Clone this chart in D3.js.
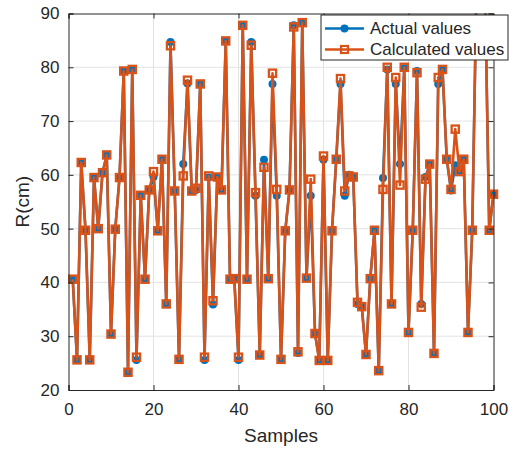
<!DOCTYPE html>
<html>
<head>
<meta charset="utf-8">
<script src="https://cdn.jsdelivr.net/npm/d3@7"></script>
<style>
  html, body { margin: 0; padding: 0; background: #fff; }
  svg { display: block; font-family: "Liberation Sans", Arial, sans-serif; }
</style>
</head>
<body>
<div id="chart"></div>
<script>
// sample index 1..100
const samples = d3.range(1, 101);

// measured radius
const actual = [
  40.6, 25.6, 62.3, 49.7, 25.6, 59.5, 50.0, 60.4, 63.7, 30.4,
  49.9, 59.5, 79.3, 23.3, 79.6, 25.6, 56.2, 40.6, 57.2, 59.6,
  49.6, 62.9, 36.0, 84.7, 57.0, 25.7, 62.0, 77.0, 57.0, 57.2,
  76.9, 25.6, 59.5, 35.9, 59.6, 57.2, 84.9, 40.6, 40.7, 25.6,
  87.8, 40.6, 84.7, 56.1, 26.5, 62.8, 40.7, 76.9, 56.1, 25.7,
  49.6, 57.2, 87.8, 26.9, 88.3, 40.8, 56.1, 30.5, 25.5, 62.8,
  25.5, 49.6, 62.9, 76.9, 56.1, 60.0, 59.6, 36.0, 35.5, 26.6,
  40.7, 49.7, 23.6, 59.4, 79.6, 36.0, 76.9, 62.0, 79.8, 30.7,
  49.7, 79.3, 36.0, 59.6, 62.0, 26.8, 76.9, 79.6, 62.9, 57.1,
  61.8, 60.8, 62.9, 30.7, 49.7, 95.0, 97.0, 95.0, 49.7, 56.4
];

// model output
const calculated = [
  40.6, 25.6, 62.3, 49.7, 25.6, 59.5, 50.0, 60.4, 63.7, 30.4,
  49.9, 59.5, 79.3, 23.3, 79.6, 26.1, 56.2, 40.6, 57.2, 60.6,
  49.6, 62.9, 36.0, 84.0, 57.0, 25.7, 59.8, 77.6, 57.0, 57.5,
  76.9, 26.1, 59.8, 36.6, 59.6, 57.2, 84.9, 40.6, 40.7, 26.1,
  87.8, 40.6, 84.1, 56.7, 26.5, 61.4, 40.7, 78.9, 57.3, 25.7,
  49.6, 57.2, 87.5, 27.1, 88.3, 40.8, 59.2, 30.5, 25.5, 63.5,
  25.5, 49.6, 62.9, 77.9, 57.0, 59.8, 59.6, 36.3, 35.5, 26.6,
  40.7, 49.7, 23.6, 57.3, 80.0, 36.0, 78.1, 58.1, 80.0, 30.7,
  49.7, 79.0, 35.4, 59.2, 62.0, 26.8, 78.1, 79.6, 62.9, 57.3,
  68.5, 60.6, 62.9, 30.7, 49.7, 95.0, 97.0, 95.0, 49.7, 56.4
];

const xTicks = [0, 20, 40, 60, 80, 100];
const yTicks = [20, 30, 40, 50, 60, 70, 80, 90];
const seriesNames = ['Actual values', 'Calculated values'];

const width = 515, height = 449;
const margin = { top: 13.5, right: 21.5, bottom: 59, left: 68.5 };
const innerW = width - margin.left - margin.right;
const innerH = height - margin.top - margin.bottom;

const blue = '#0072BD', orange = '#D95319', ink = '#262626';

const x = d3.scaleLinear().domain([0, 100]).range([0, innerW]);
const y = d3.scaleLinear().domain([20, 90]).range([innerH, 0]);

const svg = d3.select('#chart').append('svg')
  .attr('width', width)
  .attr('height', height);

svg.append('defs').append('clipPath').attr('id', 'plot-clip')
  .append('rect').attr('width', innerW).attr('height', innerH);

const g = svg.append('g').attr('transform', `translate(${margin.left},${margin.top})`);

// grid
g.append('g').selectAll('line').data(xTicks.slice(1, -1)).join('line')
  .attr('x1', d => x(d)).attr('x2', d => x(d))
  .attr('y1', 0).attr('y2', innerH)
  .attr('stroke', '#e3e3e3').attr('stroke-width', 1);
g.append('g').selectAll('line').data(yTicks.slice(1, -1)).join('line')
  .attr('y1', d => y(d)).attr('y2', d => y(d))
  .attr('x1', 0).attr('x2', innerW)
  .attr('stroke', '#e3e3e3').attr('stroke-width', 1);

// series: lines clipped to the box, markers drawn only for in-range points
const plot = g.append('g');
const line = d3.line();
const inRange = v => v >= 20 && v <= 90;

const ptsA = samples.map((s, i) => [x(s), y(actual[i]), actual[i]]);
const ptsC = samples.map((s, i) => [x(s), y(calculated[i]), calculated[i]]);

plot.append('path').attr('d', line(ptsA)).attr('clip-path', 'url(#plot-clip)')
  .attr('fill', 'none').attr('stroke', blue).attr('stroke-width', 2.6)
  .attr('stroke-linejoin', 'round');
plot.append('g').selectAll('circle').data(ptsA.filter(d => inRange(d[2]))).join('circle')
  .attr('cx', d => d[0]).attr('cy', d => d[1]).attr('r', 4)
  .attr('fill', blue);

plot.append('path').attr('d', line(ptsC)).attr('clip-path', 'url(#plot-clip)')
  .attr('fill', 'none').attr('stroke', orange).attr('stroke-width', 2.6)
  .attr('stroke-linejoin', 'round');
plot.append('g').selectAll('rect').data(ptsC.filter(d => inRange(d[2]))).join('rect')
  .attr('x', d => d[0] - 3.6).attr('y', d => d[1] - 3.6)
  .attr('width', 7.2).attr('height', 7.2)
  .attr('fill', 'none').attr('stroke', orange).attr('stroke-width', 2.3);

// axes (ticks inside, box on)
const tickLen = 5;
const xAxis = g.append('g').attr('transform', `translate(0,${innerH})`)
  .call(d3.axisBottom(x).tickValues(xTicks).tickSize(-tickLen).tickPadding(13));
const yAxis = g.append('g')
  .call(d3.axisLeft(y).tickValues(yTicks).tickSize(-tickLen).tickPadding(9));
const xTop = g.append('g')
  .call(d3.axisTop(x).tickValues(xTicks).tickSize(-tickLen).tickFormat(''));
const yRight = g.append('g').attr('transform', `translate(${innerW},0)`)
  .call(d3.axisRight(y).tickValues(yTicks).tickSize(-tickLen).tickFormat(''));

[xAxis, yAxis, xTop, yRight].forEach(a => {
  a.selectAll('.domain').attr('stroke', ink).attr('stroke-width', 1);
  a.selectAll('.tick line').attr('stroke', ink).attr('stroke-width', 1);
  a.selectAll('.tick text').attr('fill', ink)
    .style('font-size', '17px').style('font-family', '"Liberation Sans", Arial, sans-serif');
});

// axis labels
svg.append('text')
  .attr('x', margin.left + innerW / 2).attr('y', 442)
  .attr('text-anchor', 'middle').attr('fill', ink)
  .style('font-size', '19px')
  .text('Samples');

svg.append('text')
  .attr('transform', `translate(29,${margin.top + innerH / 2}) rotate(-90)`)
  .attr('text-anchor', 'middle').attr('fill', ink)
  .style('font-size', '19px')
  .text('R(cm)');

// legend
const legend = svg.append('g').attr('transform', 'translate(321,15)');
legend.append('rect')
  .attr('width', 187).attr('height', 45)
  .attr('fill', '#fff').attr('stroke', ink).attr('stroke-width', 1);

const rows = legend.selectAll('g.row').data(seriesNames).join('g')
  .attr('class', 'row')
  .attr('transform', (d, i) => `translate(0,${13.5 + i * 21})`);
rows.append('line')
  .attr('x1', 4).attr('x2', 43)
  .attr('stroke', (d, i) => i === 0 ? blue : orange).attr('stroke-width', 2.6);
rows.filter((d, i) => i === 0).append('circle')
  .attr('cx', 23.5).attr('r', 4).attr('fill', blue);
rows.filter((d, i) => i === 1).append('rect')
  .attr('x', 20).attr('y', -3.5).attr('width', 7).attr('height', 7)
  .attr('fill', 'none').attr('stroke', orange).attr('stroke-width', 2.2);
rows.append('text')
  .attr('x', 49).attr('dy', '0.35em').attr('fill', ink)
  .style('font-size', '17px')
  .text(d => d);
</script>
</body>
</html>
